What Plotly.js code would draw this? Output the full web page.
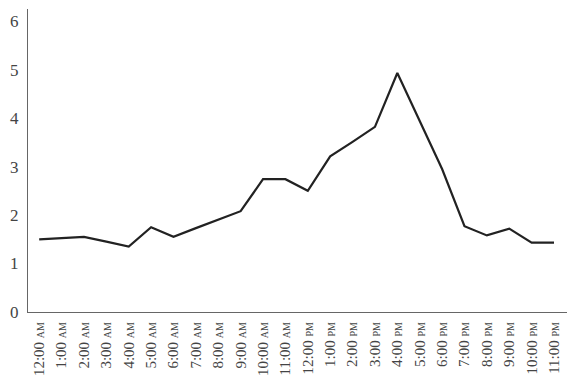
<!DOCTYPE html>
<html><head><meta charset="utf-8">
<script src="https://cdn.plot.ly/plotly-3.0.1.min.js"></script>
<style>body{margin:0;background:#fff}#chart{width:570px;height:384px}</style>
</head><body><div id="chart"></div>
<script>
const hours = ["12:00","1:00","2:00","3:00","4:00","5:00","6:00","7:00","8:00","9:00","10:00","11:00",
               "12:00","1:00","2:00","3:00","4:00","5:00","6:00","7:00","8:00","9:00","10:00","11:00"];
const periods = ["AM","AM","AM","AM","AM","AM","AM","AM","AM","AM","AM","AM",
                 "PM","PM","PM","PM","PM","PM","PM","PM","PM","PM","PM","PM"];
const values = [1.50,1.52,1.55,1.45,1.35,1.75,1.55,1.73,1.90,2.08,2.74,2.74,
                2.50,3.21,3.51,3.82,4.93,3.95,2.95,1.77,1.58,1.72,1.43,1.43];
const yTicks = [0,1,2,3,4,5,6];

const idx = hours.map((h,i)=>i);
const labels = hours.map((h,i)=>h+" <span style='font-size:10px'>"+periods[i]+"</span>");
const FONT = "Liberation Serif, Times New Roman, serif";

Plotly.newPlot("chart",[{
  x: idx, y: values, type:"scatter", mode:"lines",
  line:{color:"#222222", width:2.2}, hoverinfo:"skip"
}],{
  width:570, height:384,
  margin:{l:28,r:3,t:9,b:72},
  paper_bgcolor:"#fff", plot_bgcolor:"#fff",
  showlegend:false,
  font:{family:FONT, color:"#444"},
  xaxis:{
    range:[-0.5,23.58], tickvals:idx, ticktext:labels, tickangle:-90,
    showgrid:false, zeroline:false, showline:true, linecolor:"#666", linewidth:1,
    ticks:"", tickfont:{family:FONT, size:15, color:"#444"}, ticklabelstandoff:3
  },
  yaxis:{
    range:[0,6.25], tickvals:yTicks, ticktext:yTicks.map(String),
    showgrid:false, zeroline:false, showline:true, linecolor:"#666", linewidth:1,
    ticks:"", tickfont:{family:FONT, size:17, color:"#444"}, ticklabelstandoff:5
  }
},{staticPlot:true, displayModeBar:false});
</script></body></html>
